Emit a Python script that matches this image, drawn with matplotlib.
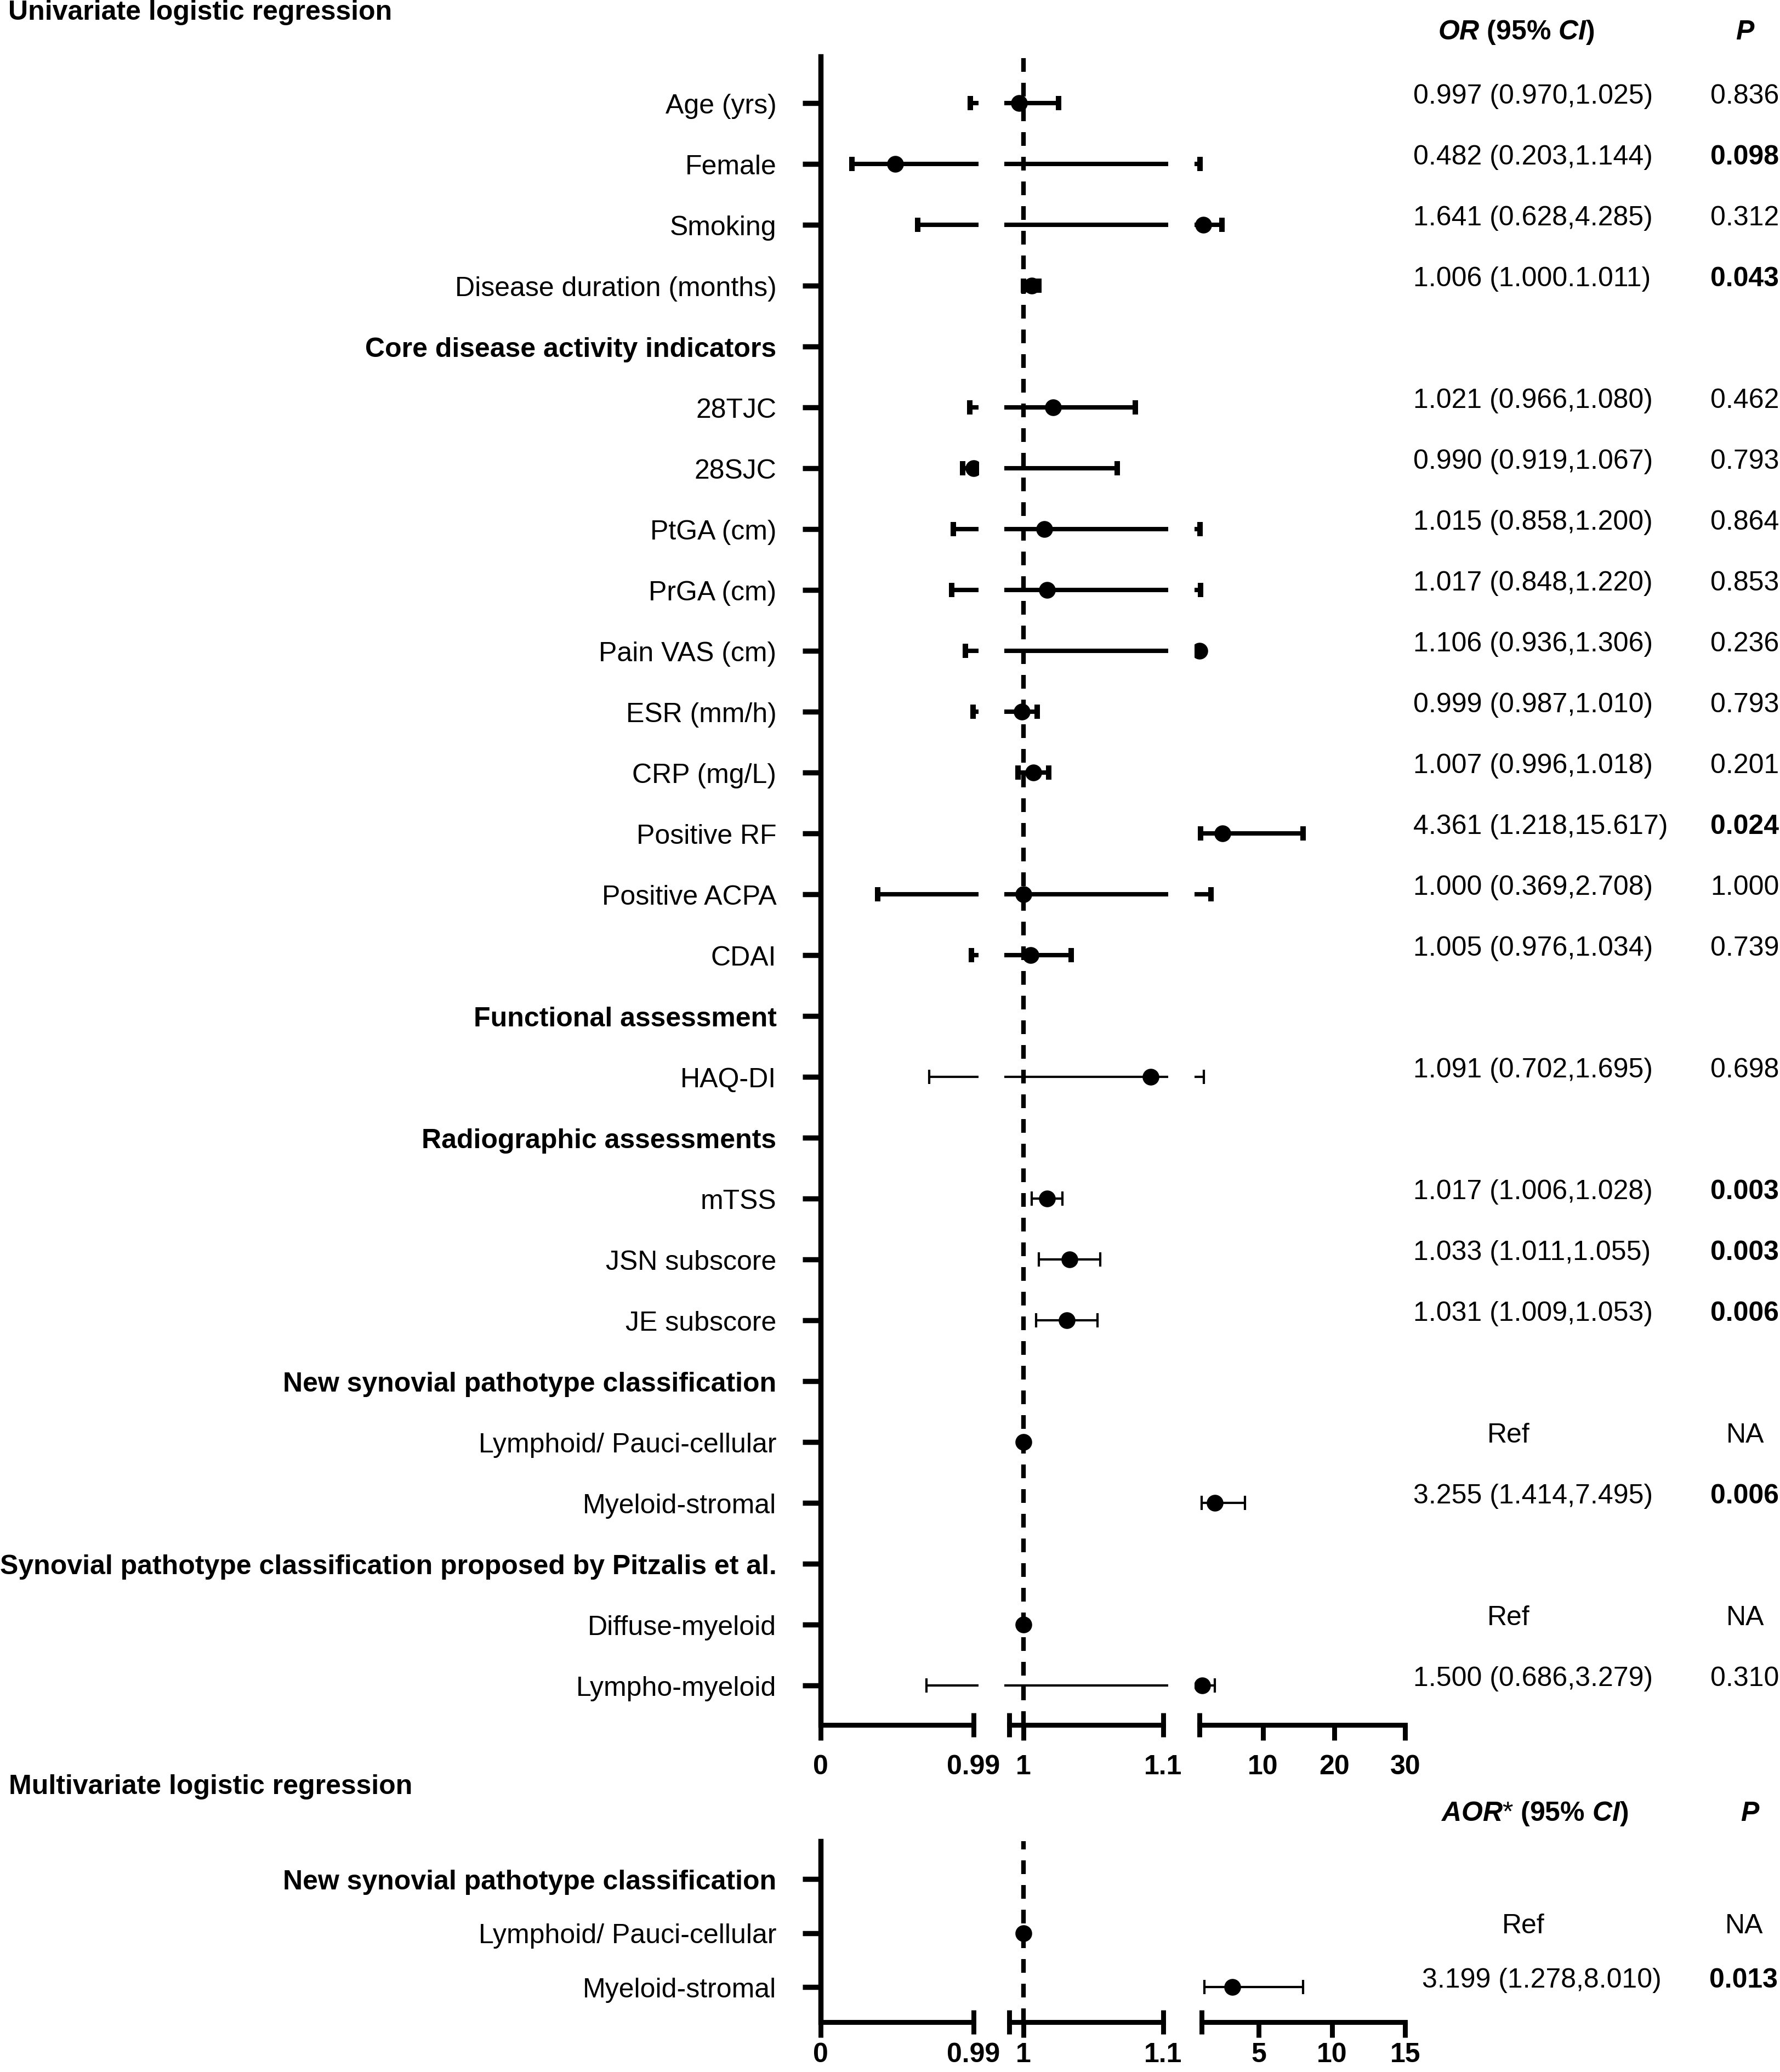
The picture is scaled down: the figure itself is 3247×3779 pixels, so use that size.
import numpy as np
import matplotlib
matplotlib.use("Agg")
import matplotlib.pyplot as plt
import matplotlib.transforms as mtransforms

plt.rcParams['font.family'] = ['Liberation Sans', 'DejaVu Sans']
plt.rcParams['font.size'] = 18
plt.rcParams['mathtext.fontset'] = 'custom'
plt.rcParams['mathtext.rm'] = 'Liberation Sans'
plt.rcParams['mathtext.bf'] = 'Liberation Sans:bold'
plt.rcParams['mathtext.it'] = 'Liberation Sans:italic'
plt.rcParams['mathtext.bfit'] = 'Liberation Sans:italic:bold'

nan = np.nan

# univariate logistic regression, top to bottom (nan odds = section header)
labels = ["Age (yrs)", "Female", "Smoking", "Disease duration (months)",
          "Core disease activity indicators", "28TJC", "28SJC", "PtGA (cm)",
          "PrGA (cm)", "Pain VAS (cm)", "ESR (mm/h)", "CRP (mg/L)", "Positive RF",
          "Positive ACPA", "CDAI", "Functional assessment", "HAQ-DI",
          "Radiographic assessments", "mTSS", "JSN subscore", "JE subscore",
          "New synovial pathotype classification", "Lymphoid/ Pauci-cellular",
          "Myeloid-stromal",
          "Synovial pathotype classification proposed by Pitzalis et al.",
          "Diffuse-myeloid", "Lympho-myeloid"]
odds = [0.997, 0.482, 1.641, 1.006, nan, 1.021, 0.990, 1.015, 1.017, 1.106,
        0.999, 1.007, 4.361, 1.000, 1.005, nan, 1.091, nan, 1.017, 1.033, 1.031,
        nan, 1.000, 3.255, nan, 1.000, 1.500]
ci_low = [0.970, 0.203, 0.628, 1.000, nan, 0.966, 0.919, 0.858, 0.848, 0.936,
          0.987, 0.996, 1.218, 0.369, 0.976, nan, 0.702, nan, 1.006, 1.011, 1.009,
          nan, nan, 1.414, nan, nan, 0.686]
ci_high = [1.025, 1.144, 4.285, 1.011, nan, 1.080, 1.067, 1.200, 1.220, 1.306,
           1.010, 1.018, 15.617, 2.708, 1.034, nan, 1.695, nan, 1.028, 1.055, 1.053,
           nan, nan, 7.495, nan, nan, 3.279]
or_text = ["0.997 (0.970,1.025)", "0.482 (0.203,1.144)", "1.641 (0.628,4.285)",
           "1.006 (1.000.1.011)", "", "1.021 (0.966,1.080)", "0.990 (0.919,1.067)",
           "1.015 (0.858,1.200)", "1.017 (0.848,1.220)", "1.106 (0.936,1.306)",
           "0.999 (0.987,1.010)", "1.007 (0.996,1.018)", "4.361 (1.218,15.617)",
           "1.000 (0.369,2.708)", "1.005 (0.976,1.034)", "", "1.091 (0.702,1.695)",
           "", "1.017 (1.006,1.028)", "1.033 (1.011,1.055)", "1.031 (1.009,1.053)",
           "", "Ref", "3.255 (1.414,7.495)", "", "Ref", "1.500 (0.686,3.279)"]
p_text = ["0.836", "0.098", "0.312", "0.043", "", "0.462", "0.793", "0.864",
          "0.853", "0.236", "0.793", "0.201", "0.024", "1.000", "0.739", "",
          "0.698", "", "0.003", "0.003", "0.006", "", "NA", "0.006", "", "NA",
          "0.310"]

# multivariate logistic regression
m_labels = ["New synovial pathotype classification", "Lymphoid/ Pauci-cellular",
            "Myeloid-stromal"]
m_odds = [nan, 1.000, 3.199]
m_low = [nan, nan, 1.278]
m_high = [nan, nan, 8.010]
m_or_text = ["", "Ref", "3.199 (1.278,8.010)"]
m_p_text = ["", "NA", "0.013"]

# broken x axis: three linear pieces
up_breaks = [(0, 0.99), (0.99, 1.1), (1.1, 30)]
up_major = [[0], [1], [10, 20, 30]]
low_breaks = [(0, 0.99), (0.99, 1.1), (1.1, 15)]
low_major = [[0], [1], [5, 10, 15]]
minor_ticks = [[0.99], [0.99, 1.1], [1.1]]
minor_labels = [["0.99"], ["", "1.1"], [""]]

thin_rows = {"HAQ-DI", "mTSS", "JSN subscore", "JE subscore", "Myeloid-stromal",
             "Lympho-myeloid"}

W, H, DPI = 3248, 3780, 200
PAD = 9
fig = plt.figure(figsize=(W / DPI, H / DPI), dpi=DPI)


def first_seg(x, breaks):
    for k, (lo, hi) in enumerate(breaks):
        if lo <= x <= hi:
            return k
    return None


def make_panel(ytop, ybot, row0, gap, spans, breaks, majors, labs, vals, lo_v, hi_v,
               heavy=True, lpad=9):
    axes = []
    n = len(labs)
    for k, ((lo, hi), (p0, p1)) in enumerate(zip(breaks, spans)):
        scale = (p1 - p0) / (hi - lo)
        padl = 0 if k == 0 else PAD
        ax = fig.add_axes([(p0 - padl) / W, 1 - ybot / H,
                           (p1 - p0 + padl + PAD) / W, (ybot - ytop) / H])
        ax.set_xlim(lo - padl / scale, hi + PAD / scale)
        ax.set_ylim((ybot - row0) / gap, (ytop - row0) / gap)
        ax.patch.set_visible(False)
        for s in ['top', 'right']:
            ax.spines[s].set_visible(False)
        ax.spines['bottom'].set_bounds(lo, hi)
        ax.spines['bottom'].set_linewidth(3.2)
        ax.set_xticks(majors[k], labels=[str(t) for t in majors[k]])
        ax.set_xticks(minor_ticks[k], labels=minor_labels[k], minor=True)
        ax.tick_params(axis='x', which='major', direction='out', length=10,
                       width=3.2, pad=lpad, labelsize=18)
        ax.tick_params(axis='x', which='minor', direction='inout', length=16,
                       width=3.2, pad=lpad + 2, labelsize=18)
        for t in ax.get_xticklabels(which='both'):
            t.set_fontweight('bold')
        if k == 0:
            ax.spines['left'].set_linewidth(3.4)
            ax.set_yticks(range(n), labels=labs)
            ax.tick_params(axis='y', direction='out', length=12, width=3.4,
                           pad=17, labelsize=18)
            for t, v in zip(ax.get_yticklabels(), vals):
                if np.isnan(v):
                    t.set_fontweight('bold')
        else:
            ax.spines['left'].set_visible(False)
            ax.tick_params(axis='y', left=False, labelleft=False)
        if lo <= 1 < hi and k > 0:
            ax.axvline(1, color='black', lw=3, ls=(0, (3, 2.4)), zorder=1)
        axes.append(ax)

    for i in range(n):
        v = vals[i]
        if np.isnan(v):
            continue
        thin = labs[i] in thin_rows or not heavy
        lw = 1.5 if thin else 2.9
        cth = 1.5 if thin else 3.6
        a, b = lo_v[i], hi_v[i]
        if not np.isnan(a):
            for k, ((lo, hi), ax) in enumerate(zip(breaks, axes)):
                if b < lo or a > hi:
                    continue
                xl, xr = ax.get_xlim()
                x0 = a if a >= lo else xl
                x1 = b if b <= hi else xr
                ax.plot([x0, x1], [i, i], color='black', lw=lw,
                        solid_capstyle='butt', zorder=2)
            for c in (a, b):
                k = first_seg(c, breaks)
                if k is not None:
                    axes[k].plot([c], [i], marker='|', color='black', ms=9.7,
                                 mew=cth, zorder=2)
        k = first_seg(v, breaks)
        axes[k].plot([v], [i], 'o', color='black', ms=10, zorder=3)
    return axes


def add_columns(ax, or_list, p_list, or_x, ref_x, p_x, na_x):
    trans = mtransforms.blended_transform_factory(fig.transFigure, ax.transData)
    for i, (o, p) in enumerate(zip(or_list, p_list)):
        if o == "Ref":
            fig.text(ref_x / W, i, o, ha='center', va='baseline', transform=trans)
        elif o:
            fig.text(or_x / W, i, o, ha='left', va='baseline', transform=trans)
        if p == "NA":
            fig.text(na_x / W, i, p, ha='center', va='baseline', transform=trans)
        elif p:
            fig.text(p_x / W, i, p, ha='left', va='baseline', transform=trans,
                     fontweight='bold' if float(p) < 0.1 else 'normal')


up_spans = [(1497, 1776), (1841.5, 2122), (2188, 2563.5)]
low_spans = [(1497, 1776), (1841.5, 2122), (2192, 2563.5)]

up_axes = make_panel(104, 3147, 189, 111, up_spans, up_breaks, up_major,
                     labels, odds, ci_low, ci_high)
add_columns(up_axes[0], or_text, p_text, 2578, 2752, 3120, 3184)

low_axes = make_panel(3359, 3689, 3428, 98.5, low_spans, low_breaks, low_major,
                      m_labels, m_odds, m_low, m_high, heavy=False, lpad=3)
add_columns(low_axes[0], m_or_text, m_p_text, 2594, 2779, 3118, 3182)

# titles and column headers
fig.text(15 / W, 1 - 23 / H, "Univariate logistic regression", fontweight='bold',
         ha='left', va='center')
fig.text(16 / W, 1 - 3259 / H, "Multivariate logistic regression",
         fontweight='bold', ha='left', va='center')
fig.text(2766 / W, 1 - 59 / H, r"$\mathbfit{OR}\ \mathbf{(95\%}\ \mathbfit{CI}\mathbf{)}$",
         ha='center', va='center')
fig.text(3183 / W, 1 - 59 / H, "P", fontweight='bold', fontstyle='italic',
         ha='center', va='center')
fig.text(2799 / W, 1 - 3308 / H,
         r"$\mathbfit{AOR}{\mathrm{*}}\ \mathbf{(95\%}\ \mathbfit{CI}\mathbf{)}$",
         ha='center', va='center')
fig.text(3192 / W, 1 - 3308 / H, "P", fontweight='bold', fontstyle='italic',
         ha='center', va='center')

fig.savefig("out.png", dpi=DPI)
